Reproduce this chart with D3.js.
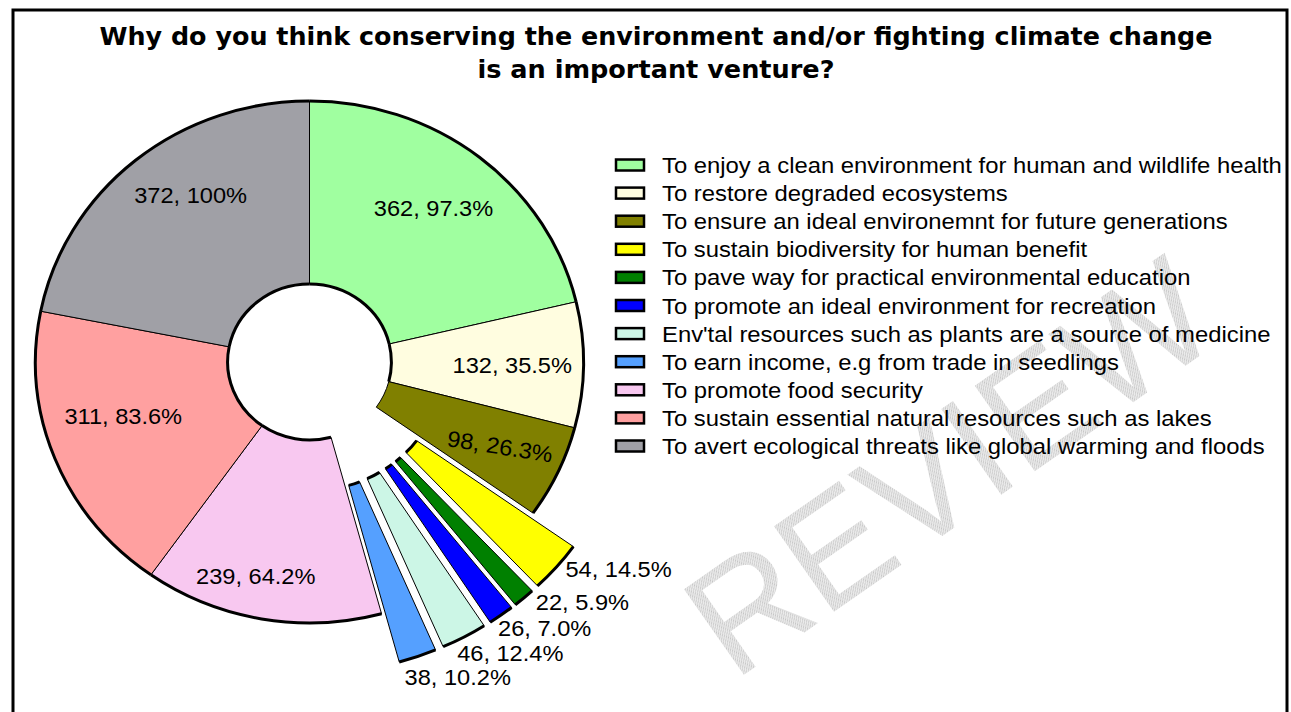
<!DOCTYPE html>
<html lang="en">
<head>
<meta charset="utf-8">
<title>Why do you think conserving the environment is important</title>
<script src="https://cdn.jsdelivr.net/npm/d3@7/dist/d3.min.js"></script>
<style>
  body { margin: 0; background: #fff; }
  svg text { font-family: "Liberation Sans", Arial, sans-serif; }
</style>
</head>
<body>
<div id="chart"></div>
<script>
// ---- data ----
var categories = [
  "To enjoy a clean environment for human and wildlife health",
  "To restore degraded ecosystems",
  "To ensure an ideal environemnt for future generations",
  "To sustain biodiversity for human benefit",
  "To pave way for practical environmental education",
  "To promote an ideal environment for recreation",
  "Env'tal resources such as plants are a source of medicine",
  "To earn income, e.g from trade in seedlings",
  "To promote food security",
  "To sustain essential natural resources such as lakes",
  "To avert ecological threats like global warming and floods"
];
var values = [362, 132, 98, 54, 22, 26, 46, 38, 239, 311, 372];
var pctLabels = ["97.3%", "35.5%", "26.3%", "14.5%", "5.9%", "7.0%", "12.4%", "10.2%", "64.2%", "83.6%", "100%"];
var titleLines = [
  "Why do you think conserving the environment and/or fighting climate change",
  "is an important venture?"
];

// ---- styles / layout ----
var colors = ["#a0ffa0", "#fffde0", "#808000", "#ffff00", "#008000", "#0000ff",
              "#ccf6e6", "#55a0ff", "#f8c8f0", "#ffa0a0", "#a0a0a6"];
var exploded = [0, 0, 0, 1, 1, 1, 1, 1, 0, 0, 0];
var thickInner = [1, 1, 0, 1, 1, 1, 1, 1, 1, 1, 1];
var labelOutside = [0, 0, 0, 1, 1, 1, 1, 1, 0, 0, 0];
// small nudges so labels sit where Excel put them
var labelNudge = [[-3, -1], [-2, 1], [5, 2], [9, 2], [12, 4], [-3, 13], [-7, 16], [-13, 20], [-18, 22], [4, -18], [11, -16]];

var w = 1291, h = 712;
var cx = 309.5, cy = 362, sx = 1.05;
var R = 261, R0 = 78, explode = 51;

var data = categories.map(function(c, i){
  return {name: c, value: values[i], pct: pctLabels[i], color: colors[i], i: i};
});

var svg = d3.select("#chart").append("svg")
  .attr("width", w).attr("height", h);

svg.append("rect").attr("width", w).attr("height", h).attr("fill", "#fff");

// watermark (hatched grey, as in the scan)
var defs = svg.append("defs");
var hatch = defs.append("pattern")
  .attr("id", "hatch")
  .attr("patternUnits", "userSpaceOnUse")
  .attr("width", 3).attr("height", 3);
hatch.append("rect").attr("width", 3).attr("height", 3).attr("fill", "#ececec");
hatch.append("path").attr("d", "M0,3 L3,0").attr("stroke", "#c4c4c4").attr("stroke-width", 1);

svg.append("text")
  .text("REVIEW")
  .attr("text-anchor", "end")
  .attr("transform", "translate(1225,338) rotate(-35)")
  .attr("font-size", 152)
  .attr("fill", "url(#hatch)");

// frame
svg.append("rect")
  .attr("x", 13).attr("y", 10)
  .attr("width", 1274).attr("height", 780)
  .attr("fill", "none").attr("stroke", "#000").attr("stroke-width", 3);

// title
svg.selectAll("text.title")
  .data(titleLines)
  .enter()
  .append("text")
  .attr("class", "title")
  .text(function(d){ return d; })
  .attr("x", 656)
  .attr("y", function(d, i){ return 45 + i * 33; })
  .attr("text-anchor", "middle")
  .attr("textLength", function(d, i){ return i == 0 ? 1113 : 357; })
  .attr("lengthAdjust", "spacingAndGlyphs")
  .style("font-family", "'DejaVu Sans', sans-serif")
  .style("font-weight", "bold")
  .style("font-size", "24px");

// ---- pie ----
var pie = d3.pie().sort(null).value(function(d){ return d.value; });
var arcs = pie(data);
var arc = d3.arc().innerRadius(R0).outerRadius(R);

function mid(d){ return (d.startAngle + d.endAngle) / 2; }

function ringPath(r, d){
  var p = d3.path();
  p.arc(0, 0, r, d.startAngle - Math.PI / 2, d.endAngle - Math.PI / 2);
  return p.toString();
}

var g = svg.append("g")
  .attr("transform", "translate(" + cx + "," + cy + ") scale(" + sx + ",1)");

var slices = g.selectAll("g.slice")
  .data(arcs)
  .enter()
  .append("g")
  .attr("class", "slice")
  .attr("transform", function(d){
    if(!exploded[d.index]) return null;
    var a = mid(d);
    return "translate(" + (explode * Math.sin(a)) + "," + (-explode * Math.cos(a)) + ")";
  });

slices.append("path")
  .attr("d", arc)
  .attr("fill", function(d){ return d.data.color; })
  .attr("stroke", "#000")
  .attr("stroke-width", 1)
  .attr("vector-effect", "non-scaling-stroke");

slices.append("path")
  .attr("d", function(d){ return ringPath(R, d); })
  .attr("fill", "none")
  .attr("stroke", "#000")
  .attr("stroke-width", 3)
  .attr("vector-effect", "non-scaling-stroke");

slices.filter(function(d){ return thickInner[d.index]; })
  .append("path")
  .attr("d", function(d){ return ringPath(R0, d); })
  .attr("fill", "none")
  .attr("stroke", "#000")
  .attr("stroke-width", 3)
  .attr("vector-effect", "non-scaling-stroke");

// data labels
svg.selectAll("text.lbl")
  .data(arcs)
  .enter()
  .append("text")
  .attr("class", "lbl")
  .text(function(d){ return d.data.value + ", " + d.data.pct; })
  .attr("text-anchor", function(d){ return labelOutside[d.index] ? "start" : "middle"; })
  .attr("font-size", "22.5px")
  .attr("fill", "#000")
  .attr("transform", function(d){
    var a = mid(d), n = labelNudge[d.index];
    var r = labelOutside[d.index] ? R + explode : 195;
    var x = cx + sx * r * Math.sin(a) + n[0];
    var y = cy - r * Math.cos(a) + n[1];
    var rot = d.index == 2 ? " rotate(9)" : "";
    return "translate(" + x + "," + y + ")" + rot + " translate(0,8) scale(" + sx + ",1)";
  });

// ---- legend ----
var legend = svg.selectAll("g.legend")
  .data(data)
  .enter()
  .append("g")
  .attr("class", "legend")
  .attr("transform", function(d, i){ return "translate(615," + (165 + i * 28.1) + ")"; });

legend.append("rect")
  .attr("x", 1).attr("y", -5.5)
  .attr("width", 28).attr("height", 11)
  .attr("fill", function(d){ return d.color; })
  .attr("stroke", "#000")
  .attr("stroke-width", 2.5);

legend.append("text")
  .text(function(d){ return d.name; })
  .attr("transform", "translate(47,8) scale(" + sx + ",1)")
  .attr("font-size", "22.7px")
  .attr("fill", "#000");
</script>
</body>
</html>
